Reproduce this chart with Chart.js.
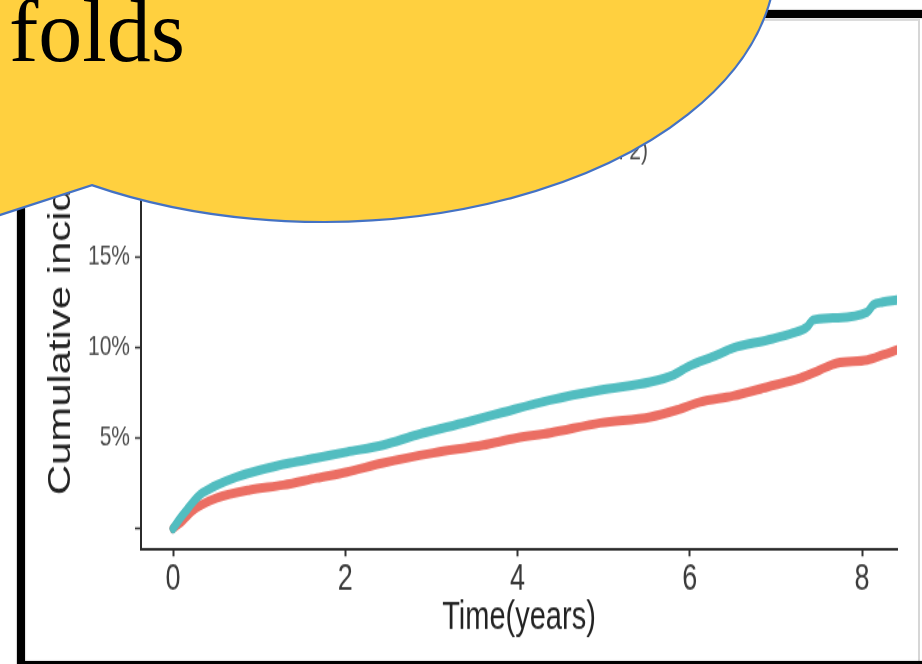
<!DOCTYPE html>
<html>
<head>
<meta charset="utf-8">
<script src="https://cdn.jsdelivr.net/npm/chart.js@4.4.1/dist/chart.umd.min.js"></script>
<style>
  html, body { margin: 0; padding: 0; background: #fff; }
  #page { position: relative; width: 922px; height: 664px; overflow: hidden; background: #fff; }
  /* the plot is rendered at 922x492 and stretched vertically, like the source figure */
  #plot { position: absolute; left: 0; top: 0; width: 922px; height: 492px;
          transform: scaleY(1.3496); transform-origin: 0 0; }
  #edge { position: absolute; left: 26px; top: 19px; width: 892px; height: 650px;
          border-top: 2px solid #dcdcdc; border-right: 2px solid #d6d6d6; }
  #frame { position: absolute; left: 17px; top: 10px; width: 1000px; height: 659px; box-sizing: border-box;
           border: 8px solid #000; box-shadow: 0 0 1.5px rgba(0,0,0,0.55), inset 0 0 1.5px rgba(0,0,0,0.55); }
  #callout { position: absolute; left: 0; top: 0; }
</style>
</head>
<body>
<div id="page">
  <div id="plot"><canvas id="chart"></canvas></div>
  <div id="edge"></div>
  <div id="frame"></div>
  <svg id="callout" width="922" height="664" viewBox="0 0 922 664">
    <path d="M -80 241 L 91.9 185.1 A 453 263.5 0 1 0 -69.3 90.25 Z"
          fill="#FFD03F" stroke="#4472C4" stroke-width="2.2" stroke-linejoin="miter"/>
    <text x="9" y="61" font-family="Liberation Serif, Times New Roman, serif" font-size="88" fill="#000">folds</text>
  </svg>
</div>
<script>
// x axis: follow-up time in years
const xTicks = [0, 2, 4, 6, 8];
// y axis: cumulative incidence in percent
const yTicks = [0, 5, 10, 15, 20, 25];
const yTickLabels = ['', '5%', '10%', '15%', '20%', '25%'];

// upper curve (teal)
const tealYears = [0, 0.08, 0.16, 0.23, 0.31, 0.41, 0.51, 0.74, 1.01, 1.36, 1.67, 2.02, 2.44, 2.83, 3.41, 3.80, 4.38, 4.96, 5.54, 5.81, 5.97, 6.32, 6.50, 6.90, 7.20, 7.36, 7.43, 7.66, 8.06, 8.13, 8.24, 8.40];
const tealPct   = [0, 0.55, 1.02, 1.45, 1.85, 2.15, 2.40, 2.85, 3.23, 3.62, 3.90, 4.23, 4.61, 5.17, 5.88, 6.38, 7.10, 7.65, 8.09, 8.48, 8.92, 9.59, 9.97, 10.41, 10.80, 11.13, 11.52, 11.63, 11.96, 12.35, 12.51, 12.62];

// lower curve (red)
const redYears = [0, 0.12, 0.22, 0.31, 0.51, 0.89, 1.28, 1.67, 2.02, 2.44, 3.02, 3.60, 3.99, 4.38, 4.96, 5.54, 5.85, 6.12, 6.50, 6.90, 7.28, 7.51, 7.71, 8.06, 8.24, 8.40];
const redPct   = [0, 0.47, 0.95, 1.25, 1.69, 2.13, 2.40, 2.79, 3.12, 3.62, 4.17, 4.61, 5.00, 5.28, 5.83, 6.16, 6.55, 6.99, 7.32, 7.82, 8.31, 8.76, 9.14, 9.31, 9.59, 9.86];

const xTitle = 'Time(years)';
const yTitle = 'Cumulative incidence';
const noteText = '(Model 1 vs Model 2)';

const toPoints = (xs, ys) => xs.map((x, i) => ({ x: x, y: ys[i] }));

const fontFamily = 'Liberation Sans, Arial, sans-serif';

// small annotation text placed above the curves, right-aligned
const notePlugin = {
  id: 'note',
  afterDraw(chart) {
    const ctx = chart.ctx;
    ctx.save();
    ctx.font = '21px "Liberation Sans", Arial, sans-serif';
    ctx.fillStyle = '#4d4d4d';
    ctx.textAlign = 'right';
    ctx.textBaseline = 'alphabetic';
    ctx.fillText(noteText, 648, 117.8);
    ctx.restore();
  }
};

const lineStyle = (color) => ({
  showLine: true,
  borderColor: color,
  backgroundColor: color,
  borderWidth: 7,
  borderCapStyle: 'round',
  borderJoinStyle: 'round',
  pointRadius: 0,
  cubicInterpolationMode: 'monotone'
});

new Chart(document.getElementById('chart'), {
  type: 'scatter',
  data: {
    datasets: [
      Object.assign({ label: 'teal', data: toPoints(tealYears, tealPct) }, lineStyle('#52BDC0')),
      Object.assign({ label: 'red', data: toPoints(redYears, redPct) }, lineStyle('#EB6E63'))
    ]
  },
  options: {
    responsive: true,
    maintainAspectRatio: false,
    animation: false,
    events: [],
    layout: { padding: { left: 0, right: 25, top: 32, bottom: 15 } },
    plugins: {
      legend: { display: false },
      tooltip: { enabled: false },
      title: { display: false }
    },
    scales: {
      x: {
        type: 'linear',
        min: -0.372,
        max: 8.405,
        afterBuildTicks: (s) => { s.ticks = xTicks.map(v => ({ value: v })); },
        afterFit: (s) => { s.height = 70; },
        border: { display: true, color: '#2b2b2b', width: 2 },
        grid: { display: true, drawOnChartArea: false, drawTicks: true, tickLength: 5.2, tickWidth: 2, tickColor: '#333' },
        ticks: {
          padding: 1,
          maxRotation: 0,
          autoSkip: false,
          color: '#3a3a3a',
          font: { family: fontFamily, size: 27 },
          callback: (v) => String(v)
        },
        title: {
          display: true,
          text: xTitle,
          color: '#222',
          font: { family: fontFamily, size: 29 },
          padding: { top: 0, bottom: 2 }
        }
      },
      y: {
        type: 'linear',
        min: -1.15,
        max: 26.81,
        afterBuildTicks: (s) => { s.ticks = yTicks.map(v => ({ value: v })); },
        afterFit: (s) => { s.width = 141; },
        border: { display: true, color: '#2b2b2b', width: 2 },
        grid: { display: true, drawOnChartArea: false, drawTicks: true, tickLength: 6, tickWidth: 1.5, tickColor: '#333' },
        ticks: {
          padding: 5,
          autoSkip: false,
          color: '#4d4d4d',
          font: { family: fontFamily, size: 21 },
          callback: (v) => yTickLabels[yTicks.indexOf(v)]
        },
        title: {
          display: true,
          text: yTitle,
          color: '#222',
          font: { family: fontFamily, size: 31 },
          padding: { top: 43, bottom: 0 }
        }
      }
    }
  },
  plugins: [notePlugin]
});
</script>
</body>
</html>
